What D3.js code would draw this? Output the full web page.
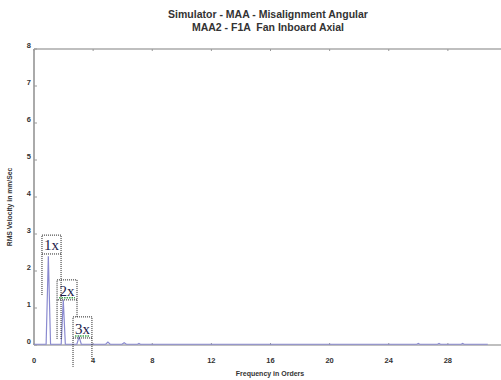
<!DOCTYPE html>
<html>
<head>
<meta charset="utf-8">
<script src="https://cdn.jsdelivr.net/npm/d3@7"></script>
<style>
  body { margin: 0; background: #fff; }
  svg { display: block; }
  text { white-space: pre; }
</style>
</head>
<body>
<div id="container"></div>
<script>
const width = 501;
const height = 380;

const titleLines = ["Simulator - MAA - Misalignment Angular", "MAA2 - F1A  Fan Inboard Axial"];
const xLabel = "Frequency in Orders";
const yLabel = "RMS Velocity in mm/Sec";
const xTicks = [0, 4, 8, 12, 16, 20, 24, 28];
const yTicks = [0, 1, 2, 3, 4, 5, 6, 7, 8];

// spectrum: [order, mm/s]
const spectrum = [
    [0, 0.02], [0.82, 0.02], [0.97, 2.4], [1.12, 0.02],
    [1.84, 0.02], [1.98, 1.22], [2.12, 0.02],
    [2.9, 0.02], [3.05, 0.22], [3.2, 0.02],
    [4.85, 0.02], [5.0, 0.08], [5.15, 0.02],
    [5.95, 0.02], [6.1, 0.06], [6.25, 0.02],
    [7.0, 0.02], [7.1, 0.04], [7.2, 0.02],
    [25.9, 0.02], [26.0, 0.04], [26.1, 0.02],
    [27.3, 0.02], [27.4, 0.04], [27.5, 0.02],
    [28.9, 0.02], [29.0, 0.04], [29.1, 0.02],
    [30.7, 0.02]
];

// harmonic marker boxes (order / mm/s units)
const markers = [
    {label: "1x", x0: 0.54, x1: 1.83, top: 2.97, bottom: 2.46, leftTo: 1.35, rightTo: 0.14, squiggle: false},
    {label: "2x", x0: 1.56, x1: 2.91, top: 1.76, bottom: 1.22, leftTo: 0.14, rightTo: 0.76, squiggle: true},
    {label: "3x", x0: 2.64, x1: 3.92, top: 0.76, bottom: 0.19, leftTo: -0.59, rightTo: -0.41, squiggle: true}
];

const x = d3.scaleLinear().domain([0, 32]).range([34, 507]);
const y = d3.scaleLinear().domain([0, 8]).range([345, 49]);

const svg = d3.create("svg")
    .attr("width", width)
    .attr("height", height);

svg.append("rect").attr("width", width).attr("height", height).attr("fill", "#fff");

// titles
svg.selectAll("text.title")
    .data(titleLines)
    .enter()
    .append("text")
    .attr("class", "title")
    .attr("x", 268)
    .attr("y", (_, i) => 18 + i * 13)
    .attr("text-anchor", "middle")
    .attr("font-family", "Liberation Sans, Arial, sans-serif")
    .attr("font-weight", "bold")
    .attr("font-size", "10.5px")
    .attr("fill", "#333")
    .text(d => d);

// frame: top, bottom and left
svg.append("line")
    .attr("x1", x(0)).attr("x2", width)
    .attr("y1", y(8)).attr("y2", y(8))
    .attr("stroke", "#aaa").attr("stroke-width", 1.5);
svg.append("line")
    .attr("x1", x(0)).attr("x2", width)
    .attr("y1", y(0)).attr("y2", y(0))
    .attr("stroke", "#aaa").attr("stroke-width", 1.5);
svg.append("line")
    .attr("x1", x(0)).attr("x2", x(0))
    .attr("y1", y(8)).attr("y2", y(0))
    .attr("stroke", "#aaa").attr("stroke-width", 2);

// y ticks
svg.selectAll("line.ytick")
    .data(yTicks)
    .enter()
    .append("line")
    .attr("class", "ytick")
    .attr("x1", x(0)).attr("x2", x(0) + 3)
    .attr("y1", d => y(d)).attr("y2", d => y(d))
    .attr("stroke", "#999");
svg.selectAll("text.ylab")
    .data(yTicks)
    .enter()
    .append("text")
    .attr("class", "ylab")
    .attr("x", x(0) - 3)
    .attr("y", d => y(d) - 1)
    .attr("text-anchor", "end")
    .attr("font-family", "Liberation Sans, Arial, sans-serif")
    .attr("font-weight", "bold")
    .attr("font-size", "7.5px")
    .attr("fill", "#333")
    .text(d => d);

// x ticks (top and bottom)
svg.selectAll("line.xtick")
    .data(xTicks.concat(xTicks.map(d => -d - 1)))
    .enter()
    .append("line")
    .attr("class", "xtick")
    .attr("x1", d => x(d < 0 ? -d - 1 : d))
    .attr("x2", d => x(d < 0 ? -d - 1 : d))
    .attr("y1", d => d < 0 ? y(8) : y(0))
    .attr("y2", d => d < 0 ? y(8) + 2 : y(0) - 2)
    .attr("stroke", "#999");
svg.selectAll("text.xlab")
    .data(xTicks)
    .enter()
    .append("text")
    .attr("class", "xlab")
    .attr("x", d => x(d))
    .attr("y", y(0) + 18)
    .attr("text-anchor", "middle")
    .attr("font-family", "Liberation Sans, Arial, sans-serif")
    .attr("font-weight", "bold")
    .attr("font-size", "7.5px")
    .attr("fill", "#333")
    .text(d => d);

svg.append("text")
    .attr("x", 270)
    .attr("y", 376)
    .attr("text-anchor", "middle")
    .attr("font-family", "Liberation Sans, Arial, sans-serif")
    .attr("font-weight", "bold")
    .attr("font-size", "7px")
    .attr("fill", "#333")
    .text(xLabel);

svg.append("text")
    .attr("transform", "translate(12, 207) rotate(-90)")
    .attr("text-anchor", "middle")
    .attr("font-family", "Liberation Sans, Arial, sans-serif")
    .attr("font-weight", "bold")
    .attr("font-size", "6.8px")
    .attr("fill", "#333")
    .text(yLabel);

// spectrum line
const line = d3.line()
    .x(d => x(d[0]))
    .y(d => y(d[1]));

svg.append("path")
    .datum(spectrum)
    .attr("d", line)
    .attr("fill", "none")
    .attr("stroke", "#8a8ad0")
    .attr("stroke-width", 1.2);

// harmonic boxes
const mk = svg.selectAll("g.marker")
    .data(markers)
    .enter()
    .append("g")
    .attr("class", "marker");

mk.append("rect")
    .attr("x", d => x(d.x0))
    .attr("y", d => y(d.top))
    .attr("width", d => x(d.x1) - x(d.x0))
    .attr("height", d => y(d.bottom) - y(d.top))
    .attr("fill", "none")
    .attr("stroke", "#222")
    .attr("stroke-width", 1)
    .attr("stroke-dasharray", "1,1");
mk.append("line")
    .attr("x1", d => x(d.x0)).attr("x2", d => x(d.x0))
    .attr("y1", d => y(d.bottom)).attr("y2", d => y(d.leftTo))
    .attr("stroke", "#222").attr("stroke-dasharray", "1,1");
mk.append("line")
    .attr("x1", d => x(d.x1)).attr("x2", d => x(d.x1))
    .attr("y1", d => y(d.bottom)).attr("y2", d => y(d.rightTo))
    .attr("stroke", "#222").attr("stroke-dasharray", "1,1");
mk.filter(d => d.squiggle)
    .append("line")
    .attr("x1", d => x(d.x0) + 2).attr("x2", d => x(d.x1) - 2)
    .attr("y1", d => y(d.bottom) - 2).attr("y2", d => y(d.bottom) - 2)
    .attr("stroke", "#3fa34d").attr("stroke-width", 1.5)
    .attr("stroke-dasharray", "1.5,1");
mk.append("text")
    .attr("x", d => (x(d.x0) + x(d.x1)) / 2)
    .attr("y", d => y(d.bottom) - 4)
    .attr("text-anchor", "middle")
    .attr("font-family", "Liberation Serif, Times New Roman, serif")
    .attr("font-size", "15px")
    .attr("fill", "#1c1c4a")
    .text(d => d.label);

d3.select("#container").append(() => svg.node());
</script>
</body>
</html>
